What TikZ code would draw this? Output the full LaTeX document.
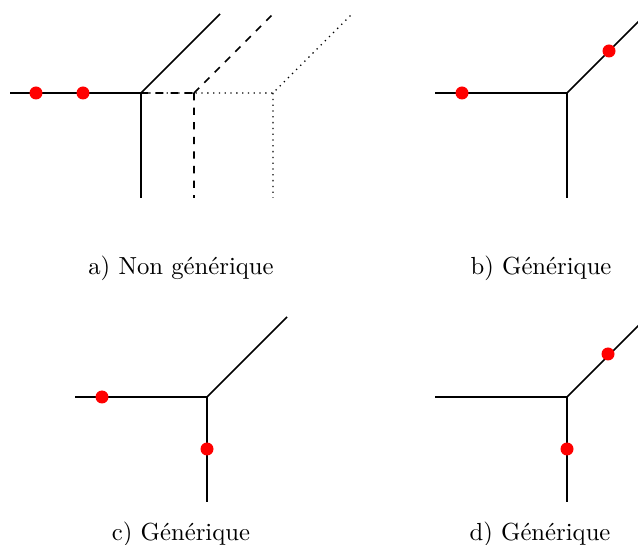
\documentclass[tikz,border=0pt]{standalone}
\usepackage{fontspec}
\begin{document}
\begin{tikzpicture}[x=1pt,y=-1pt,
  trop/.style={line width=1.7pt,black},
  tropdash/.style={trop,dash pattern=on 7.3pt off 7.3pt},
  tropdot/.style={trop,line width=1.3pt,dash pattern=on 1.3pt off 4.5pt},
  pt/.style={circle,fill=red,inner sep=0pt,minimum size=13pt},
  captext/.style={anchor=base,inner sep=0pt,scale=2.47,transform shape,font=\fontsize{10pt}{12pt}\selectfont}]
\useasboundingbox (0,0) rectangle (638,545);
\clip (0,0) rectangle (638,545);
% panel a
\coordinate (aL) at (10,93);
\coordinate (aV1) at (141,93);
\coordinate (aD1) at (141,198);
\coordinate (aU1) at (220,14);
\coordinate (aV2) at (194,93);
\coordinate (aD2) at (194,198);
\coordinate (aU2) at (273,14);
\coordinate (aV3) at (273,93);
\coordinate (aD3) at (273,198);
\coordinate (aU3) at (352,14);
\draw[tropdot] (aL) -- (aV3) -- (aU3) (aV3) -- (aD3);
\draw[tropdash] (aL) -- (aV2) (aV2) -- (aU2) (aV2) -- (aD2);
\draw[trop] (aL) -- (aV1) -- (aU1) (aV1) -- (aD1);
\node[pt] (ap1) at (36,93) {};
\node[pt] (ap2) at (83,93) {};
\node[captext] (capa) at (181,275) {a) Non générique};
% panel b
\coordinate (bL) at (435,93);
\coordinate (bV) at (567,93);
\coordinate (bD) at (567,198);
\coordinate (bU) at (646,14);
\draw[trop] (bL) -- (bV) -- (bU) (bV) -- (bD);
\node[pt] (bp1) at (462,93) {};
\node[pt] (bp2) at (609,51) {};
\node[captext] (capb) at (541,275) {b) Générique};
% panel c
\coordinate (cL) at (75,397);
\coordinate (cV) at (207,397);
\coordinate (cD) at (207,502);
\coordinate (cU) at (287,317);
\draw[trop] (cL) -- (cV) -- (cU) (cV) -- (cD);
\node[pt] (cp1) at (102,397) {};
\node[pt] (cp2) at (207,449) {};
\node[captext] (capc) at (181,540) {c) Générique};
% panel d
\coordinate (dL) at (435,397);
\coordinate (dV) at (567,397);
\coordinate (dD) at (567,502);
\coordinate (dU) at (646,318);
\draw[trop] (dL) -- (dV) -- (dU) (dV) -- (dD);
\node[pt] (dp1) at (608,354) {};
\node[pt] (dp2) at (567,449) {};
\node[captext] (capd) at (540,540) {d) Générique};
\end{tikzpicture}
\end{document}
